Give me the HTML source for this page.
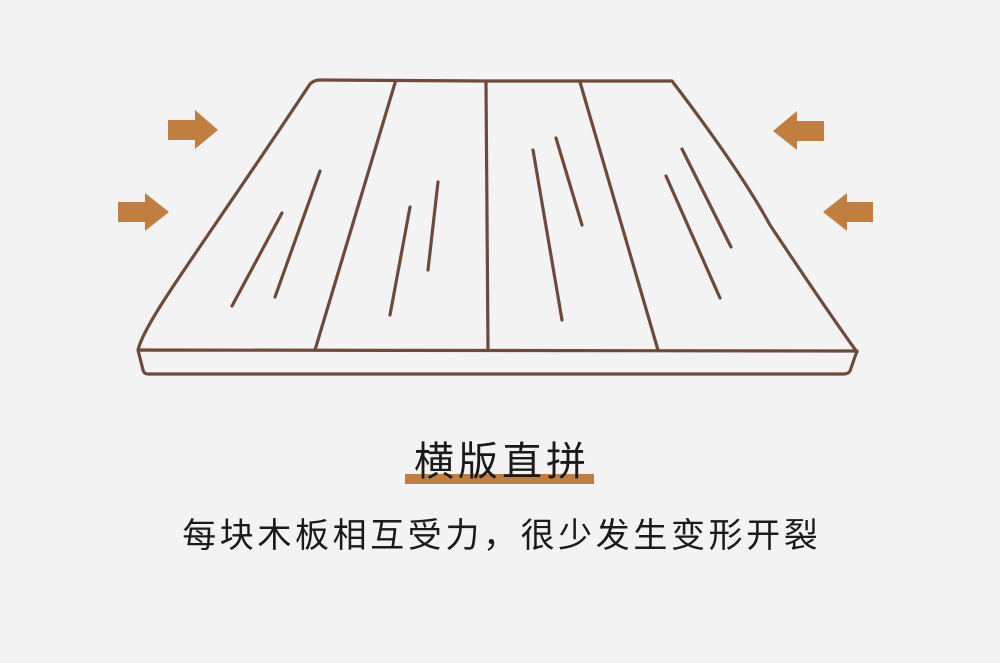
<!DOCTYPE html>
<html><head><meta charset="utf-8"><style>
html,body{margin:0;padding:0;background:#f3f3f3;width:1000px;height:663px;overflow:hidden;position:relative}
.t{position:absolute;left:0;width:1000px;text-align:center;font-family:"Liberation Sans","Noto Sans CJK SC",sans-serif;color:#1a1a1a;white-space:nowrap}
</style></head><body>
<svg width="1000" height="663" style="position:absolute;left:0;top:0">
<g fill="#c07f40">
<polygon points="168,120 195,120 195,110 218,130 195,149 195,140 168,140"/>
<polygon points="118,202 145,202 145,193 169,212 145,231 145,222 118,222"/>
<polygon points="824,121 797,121 797,111 773,131 797,150 797,141 824,141"/>
<polygon points="873,202 847,202 847,193 823,212 847,231 847,222 873,222"/>
</g>
<g fill="none" stroke="#6e4a3b" stroke-width="3.2" stroke-linecap="round" stroke-linejoin="round">
<path d="M138,350 C145,320 200,250 310,84 Q314,80 320,80 L486,81 L672,81 Q740,170 770,225 Q830,315 857,352"/>
<path d="M138,350 L857,351 L850,371 Q848,374 844,374 L148,374 Q144,374 143,370 Z"/>
<line x1="395" y1="83" x2="315" y2="350"/>
<line x1="486" y1="82" x2="488" y2="350"/>
<line x1="580" y1="82" x2="658" y2="350"/>
<line x1="282" y1="213" x2="232" y2="306"/>
<line x1="320" y1="171" x2="275" y2="297"/>
<line x1="410" y1="207" x2="390" y2="315"/>
<line x1="438" y1="182" x2="428" y2="270"/>
<line x1="533" y1="150" x2="562" y2="320"/>
<line x1="556" y1="138" x2="582" y2="225"/>
<line x1="666" y1="176" x2="720" y2="298"/>
<line x1="682" y1="149" x2="731" y2="247"/>
</g>
<rect x="405" y="474" width="189" height="10" fill="#c07f40"/>
</svg>
<div class="t" style="top:438px;font-size:40px;letter-spacing:4px;text-indent:4px;line-height:48px">横版直拼</div>
<div class="t" style="top:514px;font-size:34px;letter-spacing:3.6px;text-indent:3.6px;line-height:44px">每块木板相互受力，很少发生变形开裂</div>
</body></html>
